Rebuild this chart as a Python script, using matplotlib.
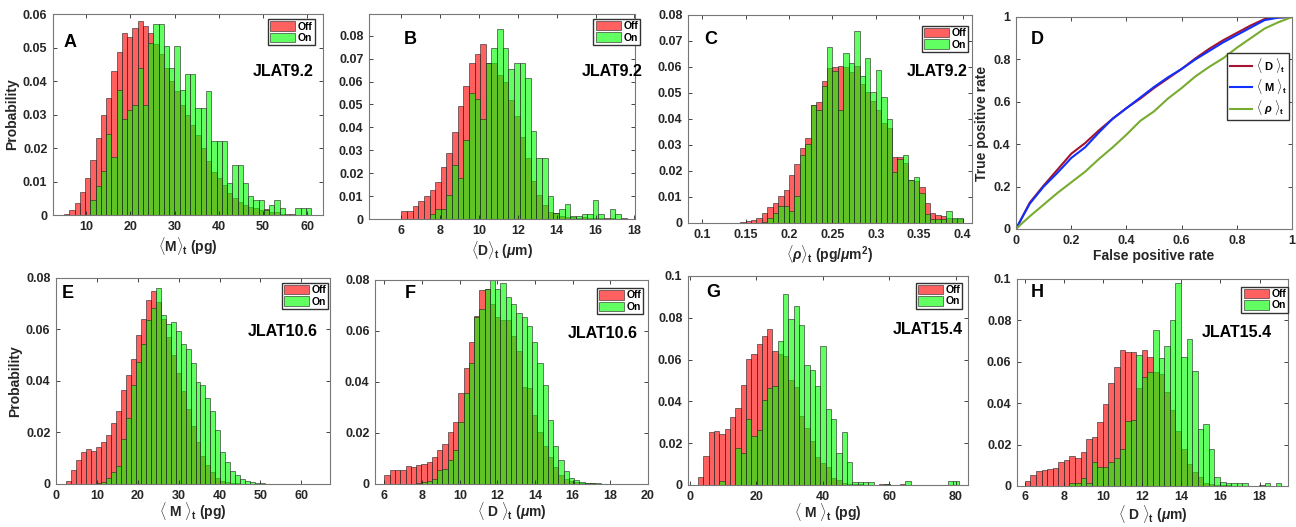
import matplotlib
matplotlib.use('Agg')
import matplotlib.pyplot as plt
import numpy as np
from matplotlib.ticker import FuncFormatter

plt.rcParams['font.family'] = ['Liberation Sans', 'DejaVu Sans']
plt.rcParams['font.weight'] = 'bold'
plt.rcParams['axes.labelweight'] = 'bold'
plt.rcParams['mathtext.fontset'] = 'custom'
plt.rcParams['mathtext.rm'] = 'Liberation Sans:bold'
plt.rcParams['mathtext.it'] = 'Liberation Sans:bold:italic'
plt.rcParams['mathtext.bf'] = 'Liberation Sans:bold'

# ---- histogram data (probability per bin) ----
# A: <M>t JLAT9.2
a_start, a_width = 5.0, 1.19
a_off = [0.0003, 0.0015, 0.0035, 0.0068, 0.011, 0.0163, 0.0229, 0.0299, 0.035, 0.043,
         0.0488, 0.0545, 0.0532, 0.056, 0.058, 0.0564, 0.0545, 0.051, 0.048, 0.044,
         0.040, 0.037, 0.033, 0.030, 0.027, 0.024, 0.020, 0.016, 0.013, 0.011,
         0.009, 0.0065, 0.005, 0.004, 0.003, 0.0025, 0.0022, 0.0015, 0.0018, 0.0008,
         0.0008, 0.0004, 0.0004, 0.0004, 0.0, 0.0, 0.0]
a_on = [0, 0, 0, 0, 0, 0.0044, 0.0088, 0.0131, 0.0242, 0.0174,
        0.0375, 0.0286, 0.0313, 0.033, 0.044, 0.033, 0.0515, 0.057, 0.057, 0.0505,
        0.044, 0.0505, 0.0375, 0.042, 0.042, 0.032, 0.032, 0.037, 0.022, 0.022,
        0.022, 0.0095, 0.015, 0.015, 0.0095, 0.0058, 0.0045, 0.0045, 0.0015, 0.003,
        0.0045, 0.002, 0.0, 0.0, 0.002, 0.002, 0.002]

# B: <D>t JLAT9.2
b_start, b_width = 6.0, 0.29
b_off = [0.0035, 0.0037, 0.0055, 0.0077, 0.010, 0.0125, 0.016, 0.0225, 0.029, 0.038,
         0.0493, 0.058, 0.068, 0.072, 0.0765, 0.068, 0.068, 0.063, 0.060, 0.052,
         0.045, 0.036, 0.0265, 0.0165, 0.0105, 0.006, 0.003, 0.0025, 0.0015, 0.001,
         0.0008, 0.0005, 0.0008, 0.0005, 0.0005, 0.0003, 0.0003, 0.0003, 0.0, 0.0003, 0.0]
b_on = [0, 0, 0, 0, 0, 0.002, 0.0045, 0.0045, 0.0105, 0.0235,
        0.018, 0.0345, 0.055, 0.0525, 0.0435, 0.068, 0.0745, 0.083, 0.0745, 0.0655,
        0.068, 0.068, 0.0615, 0.0385, 0.0265, 0.0265, 0.01, 0.0025, 0.0045, 0.0065,
        0.0015, 0.0012, 0.002, 0.002, 0.0085, 0.002, 0.0, 0.0045, 0.002, 0.0, 0.0]

# C: <rho>t JLAT9.2
c_start, c_width = 0.14375, 0.00625
c_off = [0.0003, 0.0008, 0.0012, 0.002, 0.0038, 0.006, 0.0078, 0.0105, 0.0125, 0.0185,
         0.0225, 0.029, 0.0325, 0.0455, 0.0465, 0.0545, 0.0595, 0.060, 0.0605, 0.060,
         0.058, 0.0605, 0.0535, 0.0505, 0.047, 0.0435, 0.0385, 0.0365, 0.0255, 0.0255,
         0.023, 0.0165, 0.016, 0.014, 0.0075, 0.004, 0.003, 0.0025, 0.002, 0.0015, 0.0015]
c_on = [0, 0, 0, 0, 0.0005, 0.002, 0.004, 0.0065, 0.0065, 0.0045,
        0.0105, 0.026, 0.0305, 0.0455, 0.0435, 0.0525, 0.0675, 0.0585, 0.0435, 0.0655,
        0.0615, 0.074, 0.0565, 0.0635, 0.0505, 0.059, 0.0485, 0.040, 0.0195, 0.0245,
        0.026, 0.0165, 0.0175, 0.0115, 0.0035, 0.0015, 0.0015, 0.0015, 0.0045, 0.002, 0.002]

# E: <M>t JLAT10.6
e_start, e_width = 2.4, 1.22
e_off = [0.001, 0.0055, 0.0095, 0.0125, 0.0135, 0.013, 0.0145, 0.0165, 0.019, 0.0235,
         0.0285, 0.0365, 0.0425, 0.0485, 0.058, 0.064, 0.0715, 0.075, 0.0705, 0.064,
         0.057, 0.050, 0.043, 0.036, 0.029, 0.0225, 0.0165, 0.011, 0.0075, 0.0045,
         0.0025, 0.0012, 0.0006, 0.0003, 0.0002, 0.0001, 0.0001, 0.0001, 0.0001, 0.0001,
         0.0001, 0.0001, 0.0001, 0.0, 0.0]
e_on = [0, 0, 0, 0, 0, 0, 0.0003, 0.0008, 0.0025, 0.0045,
        0.007, 0.0175, 0.0255, 0.0385, 0.0475, 0.0545, 0.0635, 0.0685, 0.076, 0.0655,
        0.062, 0.063, 0.0595, 0.0545, 0.0525, 0.047, 0.0395, 0.0385, 0.0335, 0.0285,
        0.021, 0.0125, 0.0085, 0.005, 0.0035, 0.0018, 0.0012, 0.0008, 0.0005, 0.0003,
        0.0001, 0.0001, 0, 0, 0]

# F: <D>t JLAT10.6
f_start, f_width = 6.0, 0.28
f_off = [0.0035, 0.0055, 0.0055, 0.0055, 0.007, 0.0065, 0.0075, 0.008, 0.0085, 0.0105,
         0.0135, 0.0155, 0.0205, 0.0245, 0.0355, 0.0455, 0.0555, 0.066, 0.076, 0.0765,
         0.0705, 0.0655, 0.0645, 0.0645, 0.058, 0.052, 0.038, 0.0375, 0.027, 0.0205,
         0.015, 0.0105, 0.0065, 0.0035, 0.002, 0.0012, 0.0007, 0.0004, 0.0003, 0.0002,
         0.0001, 0.0001, 0.0001, 0.0]
f_on = [0, 0, 0, 0, 0, 0, 0.0003, 0.0008, 0.0012, 0.002,
        0.0055, 0.0058, 0.0095, 0.0135, 0.0245, 0.0355, 0.0475, 0.0655, 0.0685, 0.0765,
        0.080, 0.0765, 0.079, 0.0735, 0.0705, 0.067, 0.0655, 0.062, 0.0555, 0.0475,
        0.039, 0.025, 0.015, 0.0095, 0.005, 0.0025, 0.0015, 0.0008, 0.0005, 0.0003,
        0.0002, 0.0001, 0.0001, 0]

# G: <M>t JLAT15.4
g_start, g_width = 2.5, 1.6
g_off = [0.004, 0.014, 0.0255, 0.026, 0.0245, 0.027, 0.0325, 0.037, 0.048, 0.0605,
         0.0625, 0.0675, 0.0715, 0.0745, 0.064, 0.0625, 0.0615, 0.050, 0.047, 0.033,
         0.0275, 0.021, 0.0135, 0.0105, 0.0085, 0.0035, 0.0025, 0.001, 0.0005, 0.0003,
         0.0003, 0, 0, 0, 0.0005, 0.0003, 0, 0, 0.0003, 0,
         0, 0, 0, 0, 0, 0, 0, 0, 0, 0]
g_on = [0, 0, 0, 0, 0.002, 0, 0, 0.0175, 0.0155, 0.0315,
        0.0235, 0.0265, 0.0405, 0.0465, 0.0475, 0.069, 0.0915, 0.0795, 0.0855, 0.0765,
        0.0575, 0.055, 0.0475, 0.0665, 0.0365, 0.0315, 0.0155, 0.0255, 0.011, 0.0015,
        0.0015, 0.0015, 0.0015, 0, 0, 0.0003, 0, 0, 0, 0.002,
        0, 0, 0, 0, 0, 0, 0, 0.002, 0.002, 0]

# H: <D>t JLAT15.4
h_start, h_width = 6.0, 0.285
h_off = [0.0025, 0.0055, 0.007, 0.0075, 0.008, 0.0085, 0.0115, 0.0125, 0.0145, 0.0135,
         0.0165, 0.0225, 0.0235, 0.031, 0.0395, 0.0495, 0.0575, 0.0655, 0.0645, 0.0645,
         0.0475, 0.0655, 0.0625, 0.055, 0.054, 0.0455, 0.0365, 0.0265, 0.018, 0.0105,
         0.0065, 0.0045, 0.0015, 0.001, 0.0005, 0.0003, 0.0002, 0.0001, 0.0001, 0.0001,
         0.0001, 0.0001, 0.0003, 0.0, 0.0, 0.0, 0.0]
h_on = [0, 0, 0, 0, 0, 0, 0, 0, 0.0015, 0.0015,
        0.004, 0.0015, 0.0115, 0.009, 0.009, 0.0115, 0.0135, 0.018, 0.0315, 0.032,
        0.0635, 0.0525, 0.055, 0.0755, 0.062, 0.0675, 0.080, 0.098, 0.0625, 0.071,
        0.0555, 0.0275, 0.030, 0.018, 0.0045, 0.002, 0.0015, 0.0015, 0.0015, 0.0015,
        0, 0, 0, 0.0015, 0, 0.0015, 0]

# D: ROC curves
fpr = [0, 0.02, 0.05, 0.1, 0.15, 0.2, 0.25, 0.3, 0.35, 0.4, 0.45,
       0.5, 0.55, 0.6, 0.65, 0.7, 0.75, 0.8, 0.85, 0.9, 0.95, 1.0]
tpr_d = [0, 0.05, 0.125, 0.205, 0.28, 0.355, 0.405, 0.465, 0.52, 0.57, 0.615,
         0.665, 0.71, 0.755, 0.805, 0.85, 0.89, 0.925, 0.96, 0.99, 0.998, 1.0]
tpr_m = [0, 0.05, 0.12, 0.2, 0.265, 0.335, 0.385, 0.455, 0.52, 0.57, 0.62,
         0.67, 0.715, 0.755, 0.8, 0.84, 0.88, 0.915, 0.95, 0.985, 0.997, 1.0]
tpr_rho = [0, 0.025, 0.06, 0.115, 0.17, 0.22, 0.27, 0.33, 0.385, 0.445, 0.51,
           0.555, 0.615, 0.665, 0.72, 0.765, 0.805, 0.855, 0.9, 0.945, 0.975, 1.0]

RED = (1.0, 0.0, 0.0, 0.62)
GREEN = (0.0, 1.0, 0.0, 0.62)
EDGE = (0.15, 0.15, 0.15, 0.7)
TXT = '#262626'

lab_M = r'$\langle$M$\rangle_{\rm t}$ (pg)'
lab_D = r'$\langle$D$\rangle_{\rm t}$ ($\mu$m)'
lab_rho = r'$\langle\rho\rangle_{\rm t}$ (pg/$\mu$m$^2$)'
lab_M2 = r'$\langle$ M $\rangle_{\rm t}$ (pg)'
lab_D2 = r'$\langle$ D $\rangle_{\rm t}$ ($\mu$m)'

fig = plt.figure(figsize=(12.96, 5.27), dpi=100)
fmt = FuncFormatter(lambda v, p: '%g' % round(v, 4))


def style(ax, xlim, ylim, xticks, yticks):
    ax.set_xlim(*xlim)
    ax.set_ylim(*ylim)
    ax.set_xticks(xticks)
    ax.set_yticks(yticks)
    ax.xaxis.set_major_formatter(fmt)
    ax.yaxis.set_major_formatter(fmt)
    ax.tick_params(direction='in', top=True, right=True, length=3, width=0.6,
                   labelsize=9, colors=TXT, pad=4)
    for lbl in ax.get_xticklabels() + ax.get_yticklabels():
        lbl.set_fontweight('bold')
    for s in ax.spines.values():
        s.set_color('#777777')
        s.set_linewidth(0.8)


def hist_panel(rect, start, width, off, on, xlim, ylim, xticks, yticks,
               xlabel, letter, letter_pos, cell, cell_pos, leg_pos, xpad=2):
    ax = fig.add_axes(rect)
    edges = start + width * np.arange(len(off))
    ax.bar(edges, off, width=width, align='edge', color=RED, edgecolor=EDGE,
           linewidth=0.6, label='Off')
    ax.bar(edges, on, width=width, align='edge', color=GREEN, edgecolor=EDGE,
           linewidth=0.6, label='On')
    style(ax, xlim, ylim, xticks, yticks)
    ax.set_xlabel(xlabel, fontsize=10, fontweight='bold', color=TXT, labelpad=xpad)
    ax.text(*letter_pos, letter, transform=ax.transAxes, fontsize=13,
            fontweight='bold', ha='center', va='center', color='black')
    ax.text(*cell_pos, cell, transform=ax.transAxes, fontsize=11.5,
            fontweight='bold', ha='right', va='center', color='black')
    ax.legend(loc='upper right', bbox_to_anchor=leg_pos,
              prop={'size': 7.5, 'weight': 'bold'},
              handlelength=2.4, handleheight=1.0, borderpad=0.2,
              labelspacing=0.1, handletextpad=0.25, borderaxespad=0,
              fancybox=False, edgecolor='#333333', framealpha=1)
    return ax


axA = hist_panel([0.0409, 0.592, 0.2083, 0.381], a_start, a_width, a_off, a_on,
                 (2.5, 63.6), (0, 0.06), range(10, 61, 10), np.arange(0, 0.061, 0.01),
                 lab_M, 'A', (0.063, 0.86), 'JLAT9.2', (0.965, 0.715), (0.97, 0.975))
axA.set_ylabel('Probability', fontsize=10, fontweight='bold', color=TXT, labelpad=3)

hist_panel([0.2847, 0.5844, 0.2052, 0.389], b_start, b_width, b_off, b_on,
           (4.33, 18.03), (0, 0.0895), range(6, 19, 2), np.arange(0, 0.081, 0.01),
           lab_D, 'B', (0.154, 0.878), 'JLAT9.2', (1.03, 0.722), (1.019, 0.976))

hist_panel([0.5309, 0.5769, 0.2191, 0.3947], c_start, c_width, c_off, c_on,
           (0.0838, 0.4108), (0, 0.08), np.arange(0.1, 0.401, 0.05), np.arange(0, 0.081, 0.01),
           lab_rho, 'C', (0.081, 0.88), 'JLAT9.2', (0.986, 0.73), (0.986, 0.947))

axE = hist_panel([0.0432, 0.0816, 0.2114, 0.3909], e_start, e_width, e_off, e_on,
                 (0, 67), (0, 0.08), range(0, 61, 10), np.arange(0, 0.081, 0.02),
                 lab_M2, 'E', (0.044, 0.927), 'JLAT10.6', (0.956, 0.738), (0.993, 0.976),
                 xpad=-1)
axE.set_ylabel('Probability', fontsize=10, fontweight='bold', color=TXT, labelpad=3)

hist_panel([0.2894, 0.0816, 0.2106, 0.3871], f_start, f_width, f_off, f_on,
           (5.5, 20), (0, 0.08), range(6, 21, 2), np.arange(0, 0.081, 0.02),
           lab_D2, 'F', (0.128, 0.936), 'JLAT10.6', (0.963, 0.74), (0.982, 0.96),
           xpad=-1)

hist_panel([0.5309, 0.0797, 0.216, 0.3966], g_start, g_width, g_off, g_on,
           (-0.5, 83.7), (0, 0.1), range(0, 81, 20), np.arange(0, 0.101, 0.02),
           lab_M2, 'G', (0.089, 0.919), 'JLAT15.4', (0.982, 0.742), (0.979, 0.967),
           xpad=-1)

hist_panel([0.7847, 0.078, 0.2091, 0.3926], h_start, h_width, h_off, h_on,
           (5.6, 19.45), (0, 0.1), range(6, 19, 2), np.arange(0, 0.101, 0.02),
           lab_D2, 'H', (0.074, 0.933), 'JLAT15.4', (0.94, 0.74), (1.0, 0.962),
           xpad=0)

# D: ROC
axD = fig.add_axes([0.784, 0.5655, 0.213, 0.4023])
axD.plot(fpr, tpr_d, color='#A2142F', lw=1.5, label=r'$\langle$ D $\rangle_{\rm t}$')
axD.plot(fpr, tpr_m, color='#1030FF', lw=1.5, label=r'$\langle$ M $\rangle_{\rm t}$')
axD.plot(fpr, tpr_rho, color='#77AC30', lw=1.5, label=r'$\langle\ \rho\ \rangle_{\rm t}$')
style(axD, (0, 1), (0, 1), np.arange(0, 1.01, 0.2), np.arange(0, 1.01, 0.2))
axD.set_xlabel('False positive rate', fontsize=10, fontweight='bold', color=TXT, labelpad=2)
axD.set_ylabel('True positive rate', fontsize=10, fontweight='bold', color=TXT, labelpad=3)
axD.text(0.076, 0.896, 'D', transform=axD.transAxes, fontsize=13,
         fontweight='bold', ha='center', va='center')
axD.legend(loc='upper right', bbox_to_anchor=(0.989, 0.83),
           prop={'size': 8, 'weight': 'bold'},
           handlelength=2.0, borderpad=0.25, labelspacing=0.2, handletextpad=0.3,
           borderaxespad=0, fancybox=False, edgecolor='#333333', framealpha=1)

fig.savefig('out.png', dpi=100)
